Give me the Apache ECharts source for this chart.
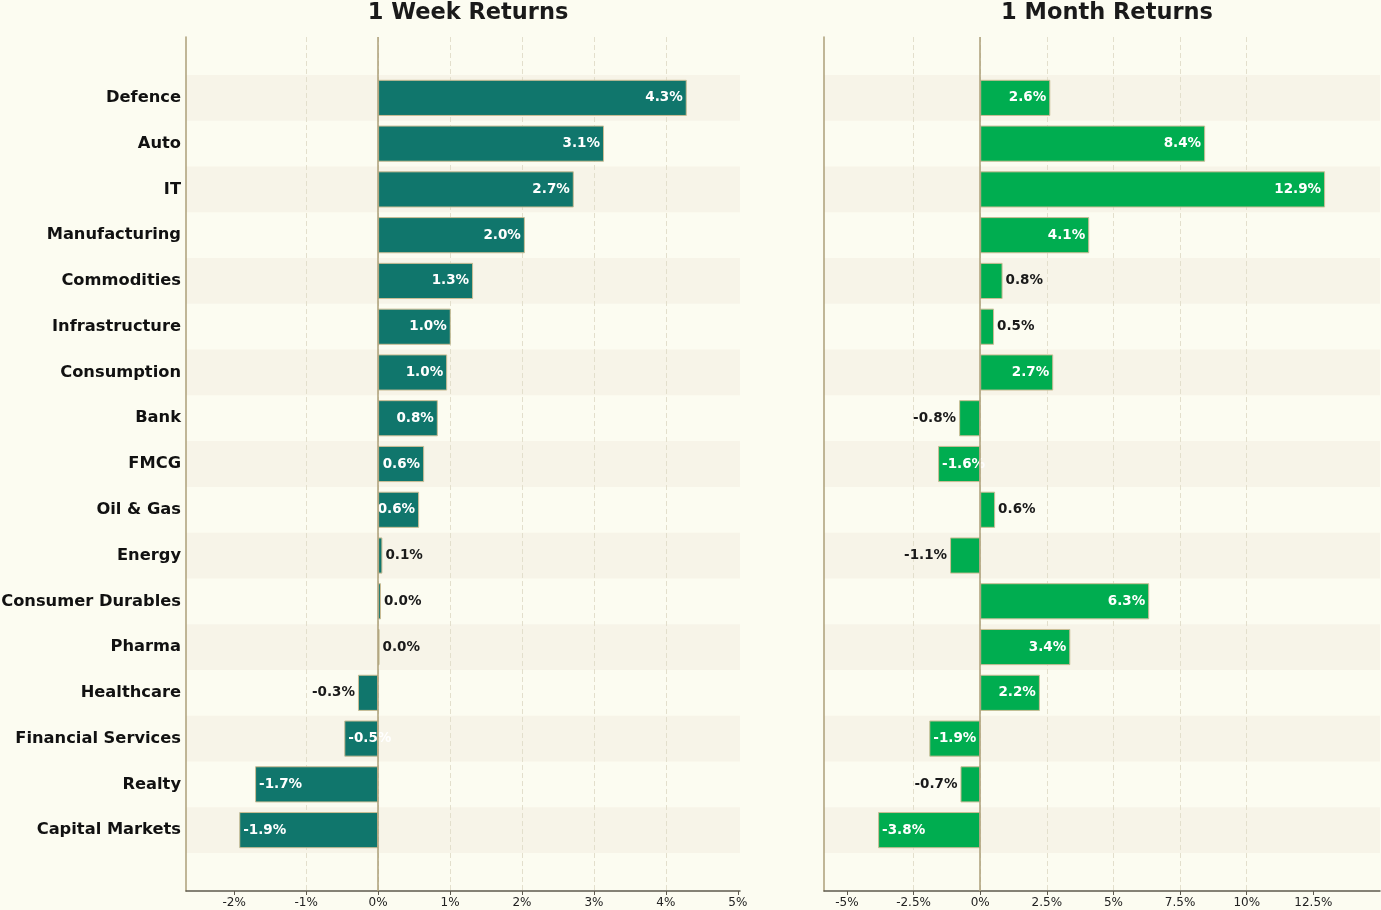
<!DOCTYPE html>
<html>
<head>
<meta charset="utf-8">
<script src="https://cdn.jsdelivr.net/npm/echarts@6/dist/echarts.min.js"></script>
<style>
html, body { margin: 0; padding: 0; background: #fcfcf1; }
#main { width: 1381px; height: 910px; }
</style>
</head>
<body>
<div id="main"></div>
<script>
var sectors = ['Defence', 'Auto', 'IT', 'Manufacturing', 'Commodities', 'Infrastructure', 'Consumption',
	'Bank', 'FMCG', 'Oil & Gas', 'Energy', 'Consumer Durables', 'Pharma', 'Healthcare',
	'Financial Services', 'Realty', 'Capital Markets'];
var weekReturns = [4.29, 3.14, 2.72, 2.04, 1.32, 1.01, 0.96, 0.83, 0.64, 0.57, 0.06, 0.04, 0.02, -0.28, -0.47, -1.71, -1.93];
var monthReturns = [2.63, 8.44, 12.94, 4.09, 0.84, 0.52, 2.74, -0.79, -1.58, 0.56, -1.13, 6.34, 3.38, 2.24, -1.91, -0.74, -3.83];
var weekTicks = [-2, -1, 0, 1, 2, 3, 4, 5];
var monthTicks = [-5, -2.5, 0, 2.5, 5, 7.5, 10, 12.5];

var font = 'DejaVu Sans';
var edge = '#cbbd95';
var spine = '#ad9f78';

// label goes inside the bar when it is at least 10% of the largest move
function buildData(values, color) {
	var big = 0;
	values.forEach(function (v) { big = Math.max(big, Math.abs(v)); });
	return values.map(function (v) {
		var inside = Math.abs(v) >= big * 0.1;
		return {
			value: v,
			itemStyle: { color: color },
			label: {
				position: inside ? (v >= 0 ? 'insideRight' : 'insideLeft') : (v >= 0 ? 'right' : 'left'),
				distance: inside ? 4 : 3,
				color: inside ? '#ffffff' : '#1a1a1a'
			}
		};
	});
}

function barGrid(left, right) {
	return { left: left, right: right, top: 75, bottom: 57, outerBoundsMode: 'none' };
}
function frameGrid(left, right) {
	return { left: left, right: right, top: 37, bottom: 19, outerBoundsMode: 'none' };
}

function frameX(idx, min, max, ticks) {
	return {
		type: 'value', gridIndex: idx, min: min, max: max,
		axisLine: { show: true, onZero: false, lineStyle: { color: '#5e5a4e', width: 1.5 } },
		axisTick: { show: true, customValues: ticks, length: 4, lineStyle: { color: '#5e5a4e' } },
		axisLabel: {
			customValues: ticks, fontFamily: font, fontSize: 12, color: '#222', margin: 6,
			formatter: function (v) { return v + '%'; }
		},
		splitLine: { show: true, showMinLine: false, showMaxLine: false, lineStyle: { type: [5, 3], color: '#e3dfcc', width: 1 } }
	};
}
function barX(idx, min, max) {
	return { type: 'value', gridIndex: idx, min: min, max: max, show: false, splitLine: { show: false } };
}
function barY(idx, showLabels) {
	return {
		type: 'category', gridIndex: idx, data: sectors, inverse: true,
		axisLine: { show: false }, axisTick: { show: false },
		axisLabel: { show: showLabels, fontFamily: font, fontWeight: 'bold', fontSize: 16.3, color: '#111', margin: 5 },
		splitArea: { show: true, areaStyle: { color: ['#f7f4e8', 'rgba(0,0,0,0)'] } }
	};
}
function frameY(idx) {
	return {
		type: 'value', gridIndex: idx, min: 0, max: 1,
		axisLine: { show: true, onZero: false, lineStyle: { color: spine, width: 1.5 } },
		axisTick: { show: false }, axisLabel: { show: false }, splitLine: { show: false }
	};
}
function zeroLine(idx) {
	return {
		type: 'line', xAxisIndex: idx, yAxisIndex: idx, data: [], z: 5,
		markLine: {
			silent: true, symbol: 'none', label: { show: false },
			lineStyle: { color: spine, type: 'solid', width: 1.5 },
			data: [{ xAxis: 0 }]
		}
	};
}
function bars(idx, values, color) {
	return {
		type: 'bar', xAxisIndex: idx, yAxisIndex: idx, barWidth: '79%',
		data: buildData(values, color),
		itemStyle: { borderColor: edge, borderWidth: 1 },
		label: {
			show: true, fontFamily: font, fontWeight: 'bold', fontSize: 13.5,
			formatter: function (p) { return p.value.toFixed(1) + '%'; }
		}
	};
}

var wMin = -2.67, wMax = 5.03, mMin = -5.86, mMax = 15.0;

var option = {
	backgroundColor: '#fcfcf1',
	animation: false,
	title: [
		{ text: '1 Week Returns', left: 463, top: -3, textAlign: 'center',
			textStyle: { fontFamily: font, fontWeight: 'bold', fontSize: 22.5, color: '#1a1a1a' } },
		{ text: '1 Month Returns', left: 1102, top: -3, textAlign: 'center',
			textStyle: { fontFamily: font, fontWeight: 'bold', fontSize: 22.5, color: '#1a1a1a' } }
	],
	grid: [barGrid(186, 641), frameGrid(186, 641), barGrid(824, 1), frameGrid(824, 1)],
	xAxis: [barX(0, wMin, wMax), frameX(1, wMin, wMax, weekTicks), barX(2, mMin, mMax), frameX(3, mMin, mMax, monthTicks)],
	yAxis: [barY(0, true), frameY(1), barY(2, false), frameY(3)],
	series: [
		bars(0, weekReturns, '#10766c'),
		zeroLine(1),
		bars(2, monthReturns, '#00ad50'),
		zeroLine(3)
	]
};

var myChart = echarts.init(document.getElementById('main'));
myChart.setOption(option);
</script>
</body>
</html>
